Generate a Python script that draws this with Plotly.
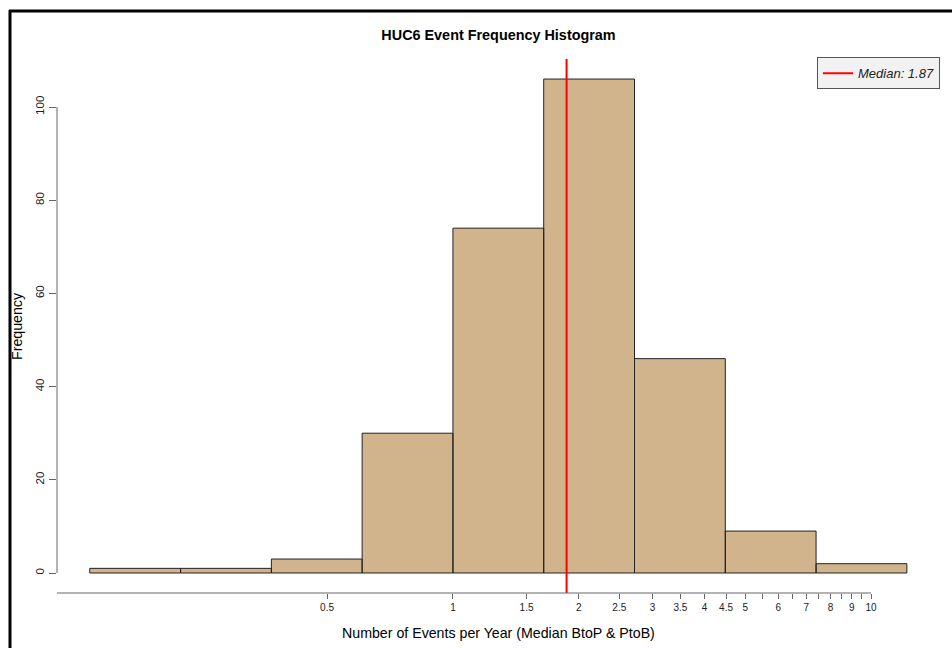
import numpy as np
import plotly.graph_objects as go

# ---------------- data ----------------
bin_edges_ln = [-2.0, -1.5, -1.0, -0.5, 0.0, 0.5, 1.0, 1.5, 2.0, 2.5]   # natural-log bin edges
counts = [1, 1, 3, 30, 74, 106, 46, 9, 2]
median_value = 1.87

x_tick_vals = [0.5, 1, 1.5, 2, 2.5, 3, 3.5, 4, 4.5, 5, 5.5, 6, 6.5, 7, 7.5, 8, 8.5, 9, 9.5, 10]
x_tick_text = ["0.5", "1", "1.5", "2", "2.5", "3", "3.5", "4", "4.5", "5", "", "6", "", "7", "", "8", "", "9", "", "10"]
y_tick_vals = [0, 20, 40, 60, 80, 100]

title_text = "HUC6 Event Frequency Histogram"
x_title = "Number of Events per Year (Median BtoP & PtoB)"
y_title = "Frequency"

# ---------------- layout geometry ----------------
W, H = 952, 648
L, R, T, B = 57, 940, 59, 593          # plot area in pixels
x_range = [-0.947, 1.165]              # log10 range
y_range = [-4.29, 110.3]

def px_x(px):
    return (px - L) / (R - L)

def px_y(py):
    return (B - py) / (B - T)

edges = np.exp(np.array(bin_edges_ln))

# bars as closed polygons
bx, by = [], []
for i, c in enumerate(counts):
    x0, x1 = edges[i], edges[i + 1]
    bx += [x0, x0, x1, x1, x0, None]
    by += [0, c, c, 0, 0, None]

fig = go.Figure()
fig.add_trace(go.Scatter(
    x=bx, y=by, mode="lines", fill="toself",
    fillcolor="#D2B48C", line=dict(color="#222222", width=1),
    showlegend=False, hoverinfo="skip",
))
fig.add_trace(go.Scatter(
    x=[median_value, median_value], y=y_range, mode="lines",
    line=dict(color="#FF0000", width=2),
    name=f"<i>Median: {median_value}</i>", showlegend=True,
))

font_family = "Liberation Sans, Arial, sans-serif"

# fraction of axis where x = 10 (end of the axis line)
frac10 = (np.log10(x_tick_vals[-1]) - x_range[0]) / (x_range[1] - x_range[0])

shapes = [
    # x axis line
    dict(type="line", xref="paper", yref="paper", x0=0, x1=frac10, y0=0, y1=0,
         line=dict(color="#666666", width=1)),
    # y axis line
    dict(type="line", xref="paper", yref="y", x0=0, x1=0, y0=y_tick_vals[0], y1=y_tick_vals[-1],
         line=dict(color="#666666", width=1)),
    # screenshot frame lines (top and left)
    dict(type="line", xref="paper", yref="paper", x0=px_x(9), x1=px_x(960), y0=px_y(11), y1=px_y(11),
         line=dict(color="black", width=3)),
    dict(type="line", xref="paper", yref="paper", x0=px_x(10), x1=px_x(10), y0=px_y(10), y1=px_y(660),
         line=dict(color="black", width=3)),
]

annotations = [
    dict(text=x_title, xref="paper", yref="paper", x=0.5, y=px_y(633),
         showarrow=False, xanchor="center", yanchor="middle",
         font=dict(family=font_family, size=14.2, color="black")),
    dict(text=y_title, xref="paper", yref="paper", x=px_x(17), y=0.5,
         showarrow=False, textangle=-90, xanchor="center", yanchor="middle",
         font=dict(family=font_family, size=14.2, color="black")),
]

fig.update_layout(
    width=W, height=H,
    margin=dict(l=L, r=W - R, t=T, b=H - B, pad=0),
    paper_bgcolor="white", plot_bgcolor="white",
    title=dict(text=f"<b>{title_text}</b>", x=0.5, xref="paper", xanchor="center",
               y=1 - 35 / H, yref="container", yanchor="middle",
               font=dict(family=font_family, size=14.4, color="black")),
    xaxis=dict(type="log", range=x_range, tickmode="array", tickvals=x_tick_vals, ticktext=x_tick_text,
               ticks="outside", ticklen=5, tickcolor="#666666", tickwidth=1,
               showgrid=False, zeroline=False, showline=False,
               tickfont=dict(family=font_family, size=10, color="#222222")),
    yaxis=dict(range=y_range, tickmode="array", tickvals=y_tick_vals,
               ticks="outside", ticklen=7, tickcolor="#666666", tickwidth=1,
               tickangle=-90, showgrid=False, zeroline=False, showline=False,
               tickfont=dict(family=font_family, size=11.5, color="#222222")),
    legend=dict(x=1, xanchor="right", y=1.003, yanchor="top", bgcolor="#F2F2F2",
                bordercolor="#555555", borderwidth=1,
                font=dict(family=font_family, size=13, color="#222222")),
    shapes=shapes, annotations=annotations,
    showlegend=True,
)

fig.write_html("out.html")
